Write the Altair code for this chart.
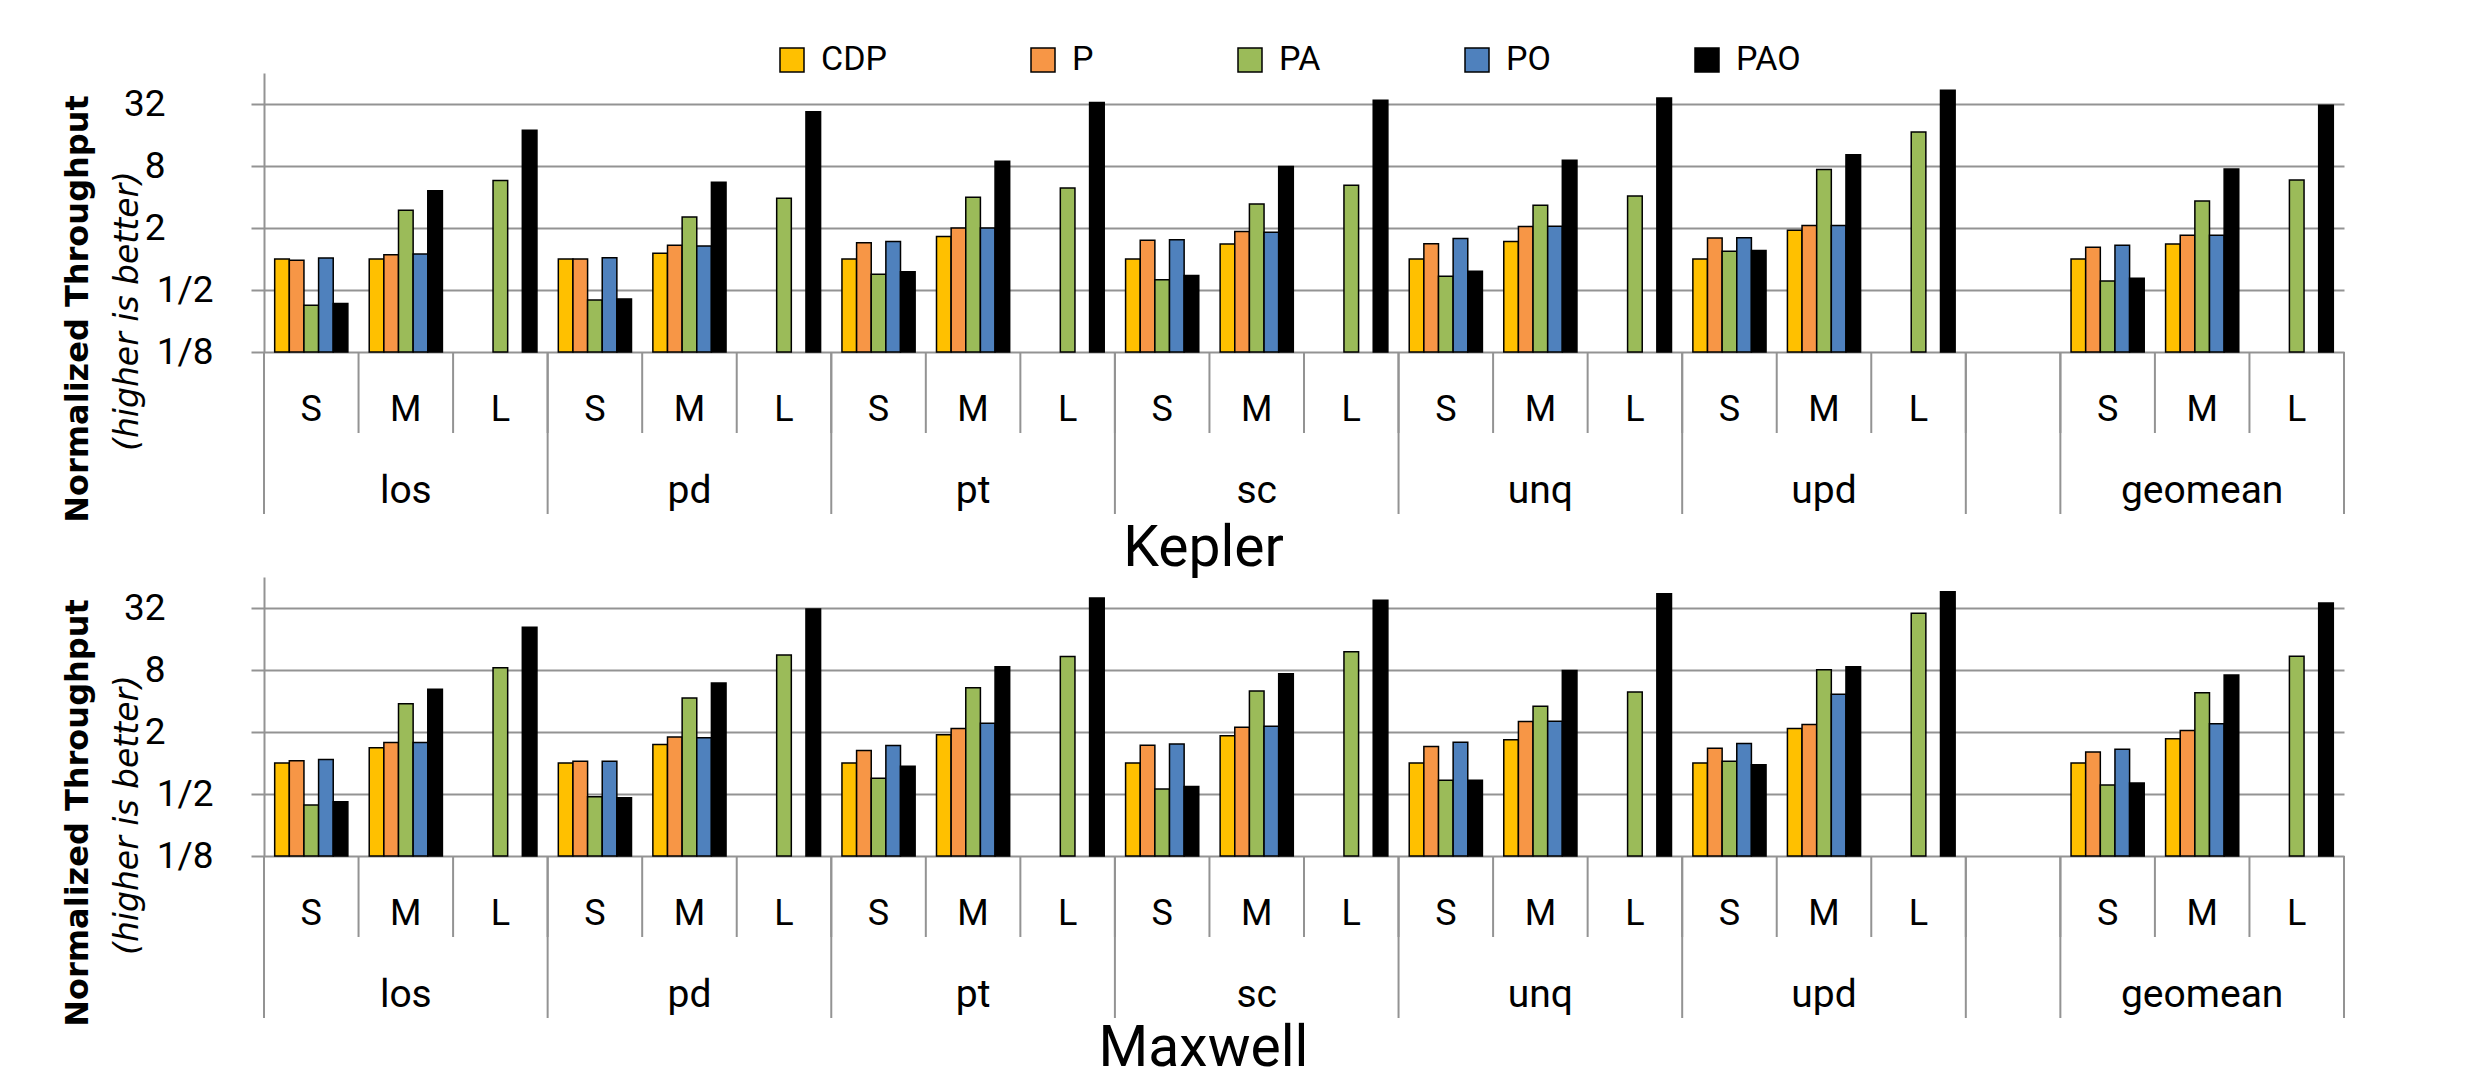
import altair as alt
import pandas as pd

# ---------------- data ----------------
benchmarks = ["los", "pd", "pt", "sc", "unq", "upd", "geomean"]
sizes = ["S", "M", "L"]
series = ["CDP", "P", "PA", "PO", "PAO"]
colors = ["#FFC000", "#F79646", "#9BBB59", "#4F81BD", "#000000"]
y_ticks = [0.125, 0.5, 2, 8, 32]
y_tick_labels = ["1/8", "1/2", "2", "8", "32"]
panels = ["Kepler", "Maxwell"]

# values in order: los S,M,L | pd S,M,L | pt | sc | unq | upd | geomean
kepler_cdp = [1.0, 1.0, None, 1.0, 1.14, None, 1.0, 1.65, None, 1.0, 1.40, None,
              1.0, 1.48, None, 1.0, 1.90, None, 1.0, 1.40, None]
kepler_p = [0.97, 1.10, None, 1.0, 1.36, None, 1.44, 2.0, None, 1.52, 1.85, None,
            1.41, 2.07, None, 1.60, 2.11, None, 1.30, 1.70, None]
kepler_pa = [0.355, 2.97, 5.8, 0.40, 2.56, 3.88, 0.71, 3.97, 4.9, 0.63, 3.42, 5.2,
             0.68, 3.32, 4.1, 1.19, 7.4, 17.1, 0.61, 3.66, 5.85]
kepler_po = [1.02, 1.12, None, 1.03, 1.34, None, 1.48, 2.0, None, 1.54, 1.82, None,
             1.58, 2.08, None, 1.61, 2.11, None, 1.36, 1.70, None]
kepler_pao = [0.37, 4.6, 17.8, 0.41, 5.55, 26.9, 0.75, 8.9, 33.0, 0.69, 7.9, 34.8,
              0.76, 9.1, 36.5, 1.21, 10.3, 43.5, 0.65, 7.5, 31.1]

maxwell_cdp = [1.0, 1.41, None, 1.0, 1.51, None, 1.0, 1.88, None, 1.0, 1.84, None,
               1.0, 1.68, None, 1.0, 2.16, None, 1.0, 1.72, None]
maxwell_p = [1.05, 1.58, None, 1.04, 1.79, None, 1.32, 2.16, None, 1.49, 2.22, None,
             1.45, 2.53, None, 1.39, 2.36, None, 1.28, 2.07, None]
maxwell_pa = [0.39, 3.77, 8.4, 0.47, 4.28, 11.2, 0.71, 5.39, 10.8, 0.56, 5.0, 12.0,
              0.68, 3.55, 4.9, 1.04, 8.06, 28.4, 0.61, 4.82, 10.85]
maxwell_po = [1.08, 1.58, None, 1.04, 1.76, None, 1.48, 2.43, None, 1.53, 2.28, None,
              1.59, 2.55, None, 1.55, 4.66, None, 1.36, 2.41, None]
maxwell_pao = [0.42, 5.2, 20.8, 0.46, 5.98, 31.3, 0.93, 8.6, 40.0, 0.59, 7.36, 38.0,
               0.68, 7.9, 44.0, 0.96, 8.6, 46.0, 0.64, 7.16, 35.8]

panel_values = {
    "Kepler": [kepler_cdp, kepler_p, kepler_pa, kepler_po, kepler_pao],
    "Maxwell": [maxwell_cdp, maxwell_p, maxwell_pa, maxwell_po, maxwell_pao],
}

# ---------------- tables ----------------
slots = []
for b in benchmarks:
    if b == "geomean":
        slots.append("gap")
    for s in sizes:
        slots.append(f"{b}|{s}")
bench_slots = [f"{b}|{s}" for b in benchmarks for s in sizes]


def bar_table(panel):
    rows = []
    for ser, vals in zip(series, panel_values[panel]):
        for slot, v in zip(bench_slots, vals):
            if v is not None:
                rows.append({"slot": slot, "series": ser, "value": v})
    return pd.DataFrame(rows)


size_df = pd.DataFrame({"slot": bench_slots, "size": [s.split("|")[1] for s in bench_slots]})
short_df = pd.DataFrame({"slot": slots})
starts = [f"{b}|S" for b in benchmarks if b != "geomean"] + ["gap", "geomean|S"]
long_start_df = pd.DataFrame({"slot": starts})
long_end_df = pd.DataFrame({"slot": ["geomean|L"]})
cat_df = pd.DataFrame({"slot": [f"{b}|M" for b in benchmarks], "name": benchmarks})
title1_df = pd.DataFrame({"t": ["Normalized Throughput"]})
title2_df = pd.DataFrame({"t": ["(higher is better)"]})

# ---------------- style ----------------
W, H = 2080, 279
GRAY = "#939393"
FONT = "Roboto"

label_expr = " : ".join(
    f"datum.value == {v} ? '{l}'" for v, l in zip(y_ticks, y_tick_labels)
) + " : datum.label"

x_scale = alt.Scale(domain=slots, paddingInner=0, paddingOuter=0)


def panel_chart(panel, show_legend, title_offset):
    df = bar_table(panel)
    if show_legend:
        legend = alt.Legend(
            orient="none", legendX=511, legendY=-30, direction="horizontal",
            columns=5, title=None, symbolType="square", symbolSize=576,
            symbolStrokeColor="black", symbolStrokeWidth=1.5, symbolOpacity=1,
            labelFont=FONT, labelFontSize=34, labelColor="black", labelOffset=12,
            columnPadding=139,
        )
    else:
        legend = None

    bars = alt.Chart(df).mark_bar(stroke="black", strokeWidth=1.5, opacity=1).encode(
        x=alt.X("slot:N", scale=x_scale, axis=None, title=None),
        xOffset=alt.XOffset("series:N", scale=alt.Scale(domain=series, paddingInner=0, paddingOuter=0.73)),
        y=alt.Y(
            "value:Q",
            scale=alt.Scale(type="log", base=2, domain=[0.125, 64], nice=False),
            axis=alt.Axis(
                values=y_ticks, labelExpr=label_expr, title=None,
                grid=True, gridColor=GRAY, gridWidth=2,
                domainColor=GRAY, domainWidth=2,
                tickColor=GRAY, tickWidth=2, tickSize=13,
                labelFont=FONT, labelFontSize=37, labelColor="black",
                labelBaseline="middle", labelOverlap=False, labelFlush=False,
                labelPadding={"condition": {"test": "datum.value < 1", "value": 38}, "value": 86},
            ),
        ),
        y2=alt.Y2Datum(0.125),
        color=alt.Color("series:N", scale=alt.Scale(domain=series, range=colors), legend=legend),
    )

    short_rules = alt.Chart(short_df).mark_rule(color=GRAY, strokeWidth=2).encode(
        x=alt.X("slot:N", scale=x_scale, bandPosition=0, axis=None),
        y=alt.value(H), y2=alt.value(H + 81),
    )
    long_rules = alt.Chart(long_start_df).mark_rule(color=GRAY, strokeWidth=2).encode(
        x=alt.X("slot:N", scale=x_scale, bandPosition=0, axis=None),
        y=alt.value(H), y2=alt.value(H + 162),
    )
    end_rule = alt.Chart(long_end_df).mark_rule(color=GRAY, strokeWidth=2).encode(
        x=alt.X("slot:N", scale=x_scale, bandPosition=1, axis=None),
        y=alt.value(H), y2=alt.value(H + 162),
    )
    size_text = alt.Chart(size_df).mark_text(
        font=FONT, fontSize=36, baseline="alphabetic", align="center", color="black"
    ).encode(
        x=alt.X("slot:N", scale=x_scale, axis=None), y=alt.value(H + 69), text="size:N"
    )
    cat_text = alt.Chart(cat_df).mark_text(
        font=FONT, fontSize=39, baseline="alphabetic", align="center", color="black"
    ).encode(
        x=alt.X("slot:N", scale=x_scale, axis=None), y=alt.value(H + 151), text="name:N"
    )
    ytitle1 = alt.Chart(title1_df).mark_text(
        font="DejaVu Sans", fontWeight="bold", fontSize=32, angle=270,
        align="center", baseline="alphabetic", color="black",
    ).encode(x=alt.value(-176), y=alt.value(236), text="t:N")
    ytitle2 = alt.Chart(title2_df).mark_text(
        font="DejaVu Sans", fontStyle="italic", fontSize=33, angle=270,
        align="center", baseline="alphabetic", color="black",
    ).encode(x=alt.value(-126), y=alt.value(238), text="t:N")

    return alt.layer(
        bars, short_rules, long_rules, end_rule, size_text, cat_text, ytitle1, ytitle2
    ).properties(
        width=W, height=H,
        title=alt.TitleParams(
            panel, orient="bottom", anchor="middle", frame="bounds",
            font=FONT, fontSize=57, fontWeight="normal", color="black",
            offset=title_offset,
        ),
    )


chart = alt.vconcat(
    panel_chart("Kepler", True, -2), panel_chart("Maxwell", False, -6), spacing=0
).resolve_scale(color="independent").resolve_legend(color="independent").properties(
    padding={"left": 54, "top": 35, "right": 10, "bottom": 0}
).configure_view(stroke=None)

chart.save("out.html", embed_options={"renderer": "svg", "actions": False})
